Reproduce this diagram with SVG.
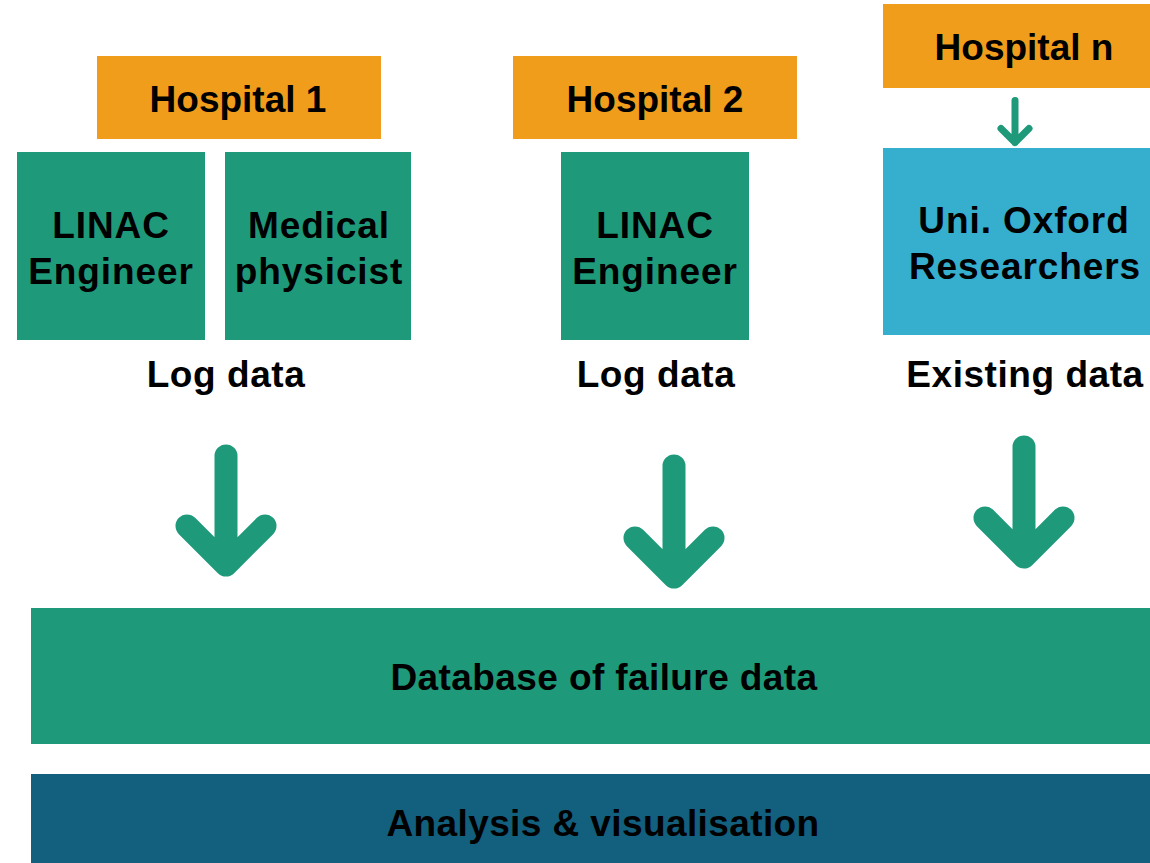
<svg xmlns="http://www.w3.org/2000/svg" width="1150" height="863" viewBox="0 0 1150 863">
  <style>
    text { font-family: "Liberation Sans", Arial, sans-serif; font-weight: bold; fill: #000; text-anchor: middle; font-size: 37px; }
    .role-t { letter-spacing: 0.9px; }
    .label-t { letter-spacing: 0.55px; }
    .bar-t { letter-spacing: 0.4px; }
    .hosp { fill: #F09D1C; }
    .role { fill: #1E9A7A; }
    .uni { fill: #36AECE; }
    .db { fill: #1E9A7A; }
    .an { fill: #125F7E; }
    .arrow { fill: none; stroke: #1E9A7A; stroke-linecap: round; stroke-linejoin: round; }
    .big { stroke-width: 23; }
    .small { stroke-width: 7; }
  </style>
  <rect width="1150" height="863" fill="#fff"/>

  <!-- Hospital 1 -->
  <g id="hospital1">
    <rect class="hosp" x="97" y="56" width="284" height="83"/>
    <text x="238" y="112">Hospital 1</text>
  </g>
  <g id="h1-linac">
    <rect class="role" x="17" y="152" width="188" height="188"/>
    <text class="role-t" x="111" y="238">LINAC</text>
    <text class="role-t" x="111" y="284">Engineer</text>
  </g>
  <g id="h1-physicist">
    <rect class="role" x="225" y="152" width="186" height="188"/>
    <text class="role-t" x="319" y="238">Medical</text>
    <text class="role-t" x="319" y="284">physicist</text>
  </g>
  <g id="h1-log">
    <text class="label-t" x="226" y="387">Log data</text>
  </g>

  <!-- Hospital 2 -->
  <g id="hospital2">
    <rect class="hosp" x="513" y="56" width="284" height="83"/>
    <text x="655" y="112">Hospital 2</text>
  </g>
  <g id="h2-linac">
    <rect class="role" x="561" y="152" width="188" height="188"/>
    <text class="role-t" x="655" y="238">LINAC</text>
    <text class="role-t" x="655" y="284">Engineer</text>
  </g>
  <g id="h2-log">
    <text class="label-t" x="656" y="387">Log data</text>
  </g>

  <!-- Hospital n -->
  <g id="hospitaln">
    <rect class="hosp" x="883" y="4" width="284" height="84"/>
    <text x="1024" y="60">Hospital n</text>
  </g>
  <g id="oxford">
    <rect class="uni" x="883" y="148" width="284" height="187"/>
    <text class="role-t" x="1024" y="233">Uni. Oxford</text>
    <text class="role-t" x="1025" y="279">Researchers</text>
  </g>
  <g id="hn-existing">
    <text class="label-t" x="1025" y="387">Existing data</text>
  </g>

  <!-- Shared stages -->
  <g id="database">
    <rect class="db" x="31" y="608" width="1150" height="136"/>
    <text class="bar-t" x="604" y="690">Database of failure data</text>
  </g>
  <g id="analysis">
    <rect class="an" x="31" y="774" width="1150" height="100"/>
    <text class="bar-t" x="603" y="836">Analysis &amp; visualisation</text>
  </g>

  <!-- Connectors -->
  <g id="connectors">
    <path class="arrow small" d="M1015 100.5 V142.5 M1001 128.5 L1015 142.5 L1029 128.5"/>
    <path class="arrow big" d="M226 456 V565 M187 526 L226 565 L265 526"/>
    <path class="arrow big" d="M674 466 V577 M635 538 L674 577 L713 538"/>
    <path class="arrow big" d="M1024 447 V557 M985 518 L1024 557 L1063 518"/>
  </g>
</svg>
